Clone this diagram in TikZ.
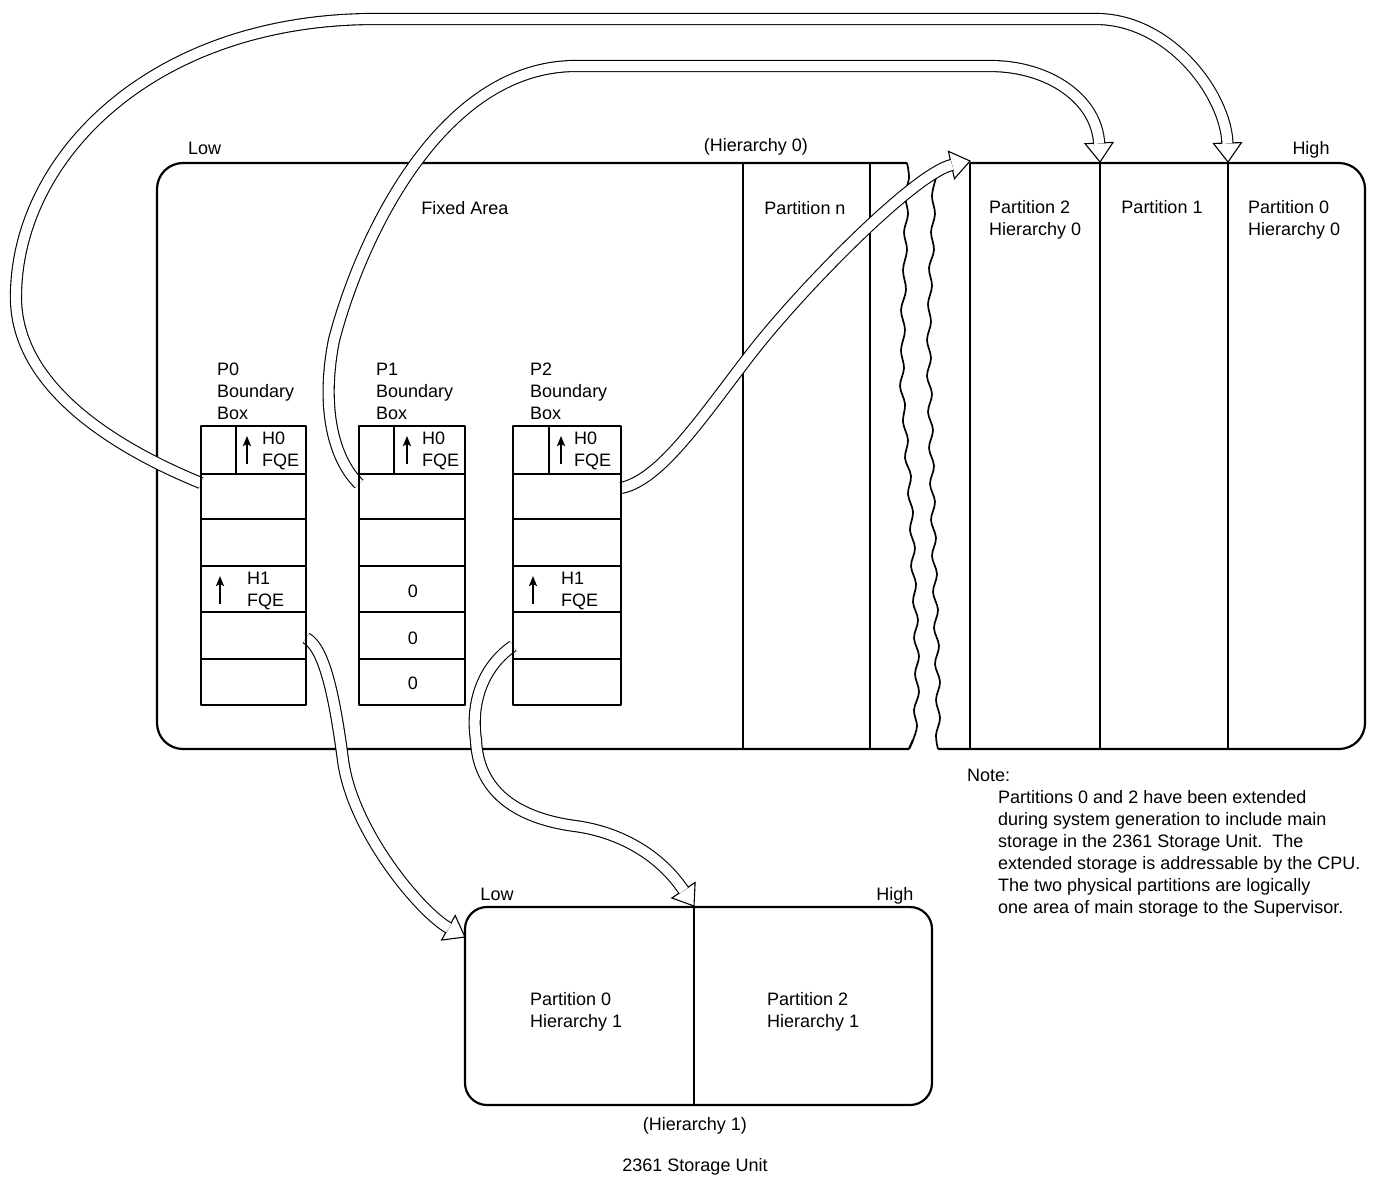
\documentclass[tikz,border=0pt]{standalone}
\usepackage{fontspec}
\setmainfont{Liberation Sans}
\usetikzlibrary{calc,arrows.meta}

% hollow arrow head: #1 tip, #2 a point behind the tip on the shaft's axis
\newcommand\hollowhead[2]{%
  \coordinate (hdB) at ($(#1)!19pt!(#2)$);
  \draw[headstyle] (#1) -- ($(hdB)!14pt!90:(#1)$) -- ($(hdB)!14pt!-90:(#1)$) -- cycle;}

\begin{document}
\begin{tikzpicture}[x=1pt,y=-1pt,
  lbl/.style={anchor=base west, inner sep=0pt, font=\fontsize{18}{22}\selectfont},
  clbl/.style={lbl, anchor=base},
  frame/.style={line width=2.2pt, line join=round},
  divider/.style={line width=1.3pt},
  cellline/.style={line width=1.5pt},
  hollow/.style={draw, line width=1.1pt, double=white, double distance=10pt},
  headstyle/.style={fill=white, line width=1.1pt, line join=miter},
  uparrow/.style={-{Stealth[length=10pt,width=8pt,inset=2pt]}, line width=2pt},
  wave/.style={line width=1.7pt, line join=round}
]
\useasboundingbox (0,0) rectangle (1374,1176);

% ---- main storage, low end (fixed area .. partition n)
\draw[frame, rounded corners=26pt] (907,163) -- (157,163) -- (157,749) -- (909,749);
\draw[wave] plot[smooth, tension=0.6] coordinates {(907,163) (909,178) (905,195) (908,214)
  (904,232) (907,250) (903,270) (906,290) (901,310) (905,330) (901,350) (904,368) (900,386)
  (905,404) (903,422) (908,440) (905,458) (911,476) (908,494) (913,512) (910,530) (915,548)
  (911,566) (916,584) (913,602) (918,620) (914,638) (919,656) (915,674) (919,692) (914,710)
  (917,726) (913,740)};
\draw[frame] (913,740) -- (909,749);
\draw[divider] (743,163) -- (743,749);
\draw[divider] (870,163) -- (870,749);

% ---- main storage, high end (partitions 2, 1, 0)
\draw[frame, rounded corners=26pt] (970,163) -- (1365,163) -- (1365,749) -- (938,749);
\draw[wave] plot[smooth, tension=0.6] coordinates {(938,749) (936,735) (940,718) (936,700)
  (940,682) (935,664) (939,646) (934,628) (938,610) (933,592) (937,574) (932,556) (936,538)
  (931,520) (935,502) (930,484) (934,466) (929,448) (933,430) (928,412) (932,394) (927,376)
  (931,358) (927,340) (931,322) (928,304) (932,286) (929,268) (934,250) (931,232) (935,214)
  (932,196) (936,178)};
\foreach \x in {970,1100,1228} \draw[divider] (\x,163) -- (\x,749);

% ---- connector end points
\coordinate (b0top) at (201,483);
\coordinate (b1top) at (359,484);
\coordinate (b2top) at (621,488);
\coordinate (b0low) at (306,638);
\coordinate (b2low) at (513,646);
\coordinate (p0tip) at (1228,162);
\coordinate (p1tip) at (1100,162);
\coordinate (p2tip) at (970,161);
\coordinate (s0tip) at (465,937);
\coordinate (s2tip) at (694,906);

% ---- hollow pointers
\hollowhead{p0tip}{1226,95}
\draw[hollow] (b0top) .. controls (120,450) and (18,390) .. (16,300)
  .. controls (14,160) and (150,19) .. (375,19) -- (1096,19)
  .. controls (1170,19) and (1226,95) .. ($(p0tip)!18.4pt!(1226,95)$);

\hollowhead{p1tip}{1097,100}
\draw[hollow] (b1top) .. controls (330,455) and (322,400) .. (334,340)
  .. controls (360,240) and (440,66) .. (576,66) -- (990,66)
  .. controls (1050,66) and (1097,100) .. ($(p1tip)!18.4pt!(1097,100)$);

\hollowhead{p2tip}{915,173}
\draw[hollow] (b2top) .. controls (660,480) and (700,420) .. (750,355)
  .. controls (800,290) and (915,173) .. ($(p2tip)!18.4pt!(915,173)$);

\hollowhead{s0tip}{420,912}
\draw[hollow] (b0low) .. controls (325,648) and (335,700) .. (343,760)
  .. controls (352,830) and (420,912) .. ($(s0tip)!18.4pt!(420,912)$);

\hollowhead{s2tip}{660,855}
\draw[hollow] (b2low) .. controls (485,665) and (470,700) .. (476,740)
  .. controls (478,790) and (515,818) .. (575,826)
  .. controls (620,832) and (660,855) .. ($(s2tip)!18.4pt!(660,855)$);

% ---- boundary boxes
\foreach \l/\r/\s in {201/306/236, 359/465/394, 513/621/549} {
  \foreach \y in {474,519,566,612,659} \draw[cellline] (\l,\y) -- (\r,\y);
  \draw[cellline] (\s,426) -- (\s,474);
  \draw[frame] (\l,426) rectangle (\r,705);
}
\draw[uparrow] (247,464) -- (247,436);
\draw[uparrow] (407,464) -- (407,436);
\draw[uparrow] (561,464) -- (561,436);
\draw[uparrow] (220,604) -- (220,576);
\draw[uparrow] (533,604) -- (533,576);

% ---- 2361 storage unit
\draw[frame, rounded corners=22pt] (465,907) rectangle (932,1105);
\draw[divider] (694,907) -- (694,1105);

% ---- labels
\node[lbl]  (lowA)  at (188,154.5) {Low};
\node[clbl] (hierA) at (756,151.5) {(Hierarchy 0)};
\node[clbl] (highA) at (1311,154.5) {High};
\node[clbl] (fixed) at (465,214.5) {Fixed Area};
\node[clbl] (partn) at (805,214.5) {Partition n};
\node[lbl]  (p2a) at (989,213.5) {Partition 2};
\node[lbl]  (p2b) at (989,235.5) {Hierarchy 0};
\node[clbl] (p1a) at (1162,213.5) {Partition 1};
\node[lbl]  (p0a) at (1248,213.5) {Partition 0};
\node[lbl]  (p0b) at (1248,235.5) {Hierarchy 0};

\node[lbl] (bb0a) at (217,375.5) {P0};
\node[lbl] (bb0b) at (217,397.5) {Boundary};
\node[lbl] (bb0c) at (217,419.5) {Box};
\node[lbl] (bb1a) at (376,375.5) {P1};
\node[lbl] (bb1b) at (376,397.5) {Boundary};
\node[lbl] (bb1c) at (376,419.5) {Box};
\node[lbl] (bb2a) at (530,375.5) {P2};
\node[lbl] (bb2b) at (530,397.5) {Boundary};
\node[lbl] (bb2c) at (530,419.5) {Box};

\node[lbl] (f0a) at (262,444.5) {H0};
\node[lbl] (f0b) at (262,466.5) {FQE};
\node[lbl] (f1a) at (422,444.5) {H0};
\node[lbl] (f1b) at (422,466.5) {FQE};
\node[lbl] (f2a) at (574,444.5) {H0};
\node[lbl] (f2b) at (574,466.5) {FQE};
\node[lbl] (g0a) at (247,584.5) {H1};
\node[lbl] (g0b) at (247,606.5) {FQE};
\node[lbl] (g2a) at (561,584.5) {H1};
\node[lbl] (g2b) at (561,606.5) {FQE};
\node[clbl] (z1) at (413,597.5) {0};
\node[clbl] (z2) at (413,644.5) {0};
\node[clbl] (z3) at (413,689.5) {0};

\node[lbl] (note) at (967,781.5) {Note:};
\node[lbl] (n1) at (998,803.5) {Partitions 0 and 2 have been extended};
\node[lbl] (n2) at (998,825.5) {during system generation to include main};
\node[lbl] (n3) at (998,847.5) {storage in the 2361 Storage Unit.\ \ The};
\node[lbl] (n4) at (998,869.5) {extended storage is addressable by the CPU.};
\node[lbl] (n5) at (998,891.5) {The two physical partitions are logically};
\node[lbl] (n6) at (998,913.5) {one area of main storage to the Supervisor.};

\node[clbl] (lowB)  at (497,900.5) {Low};
\node[clbl] (highB) at (895,900.5) {High};
\node[lbl] (q0a) at (530,1005.5) {Partition 0};
\node[lbl] (q0b) at (530,1027.5) {Hierarchy 1};
\node[lbl] (q2a) at (767,1005.5) {Partition 2};
\node[lbl] (q2b) at (767,1027.5) {Hierarchy 1};
\node[clbl] (hierB) at (695,1130) {(Hierarchy 1)};
\node[clbl] (unit)  at (695,1171) {2361 Storage Unit};
\end{tikzpicture}
\end{document}
